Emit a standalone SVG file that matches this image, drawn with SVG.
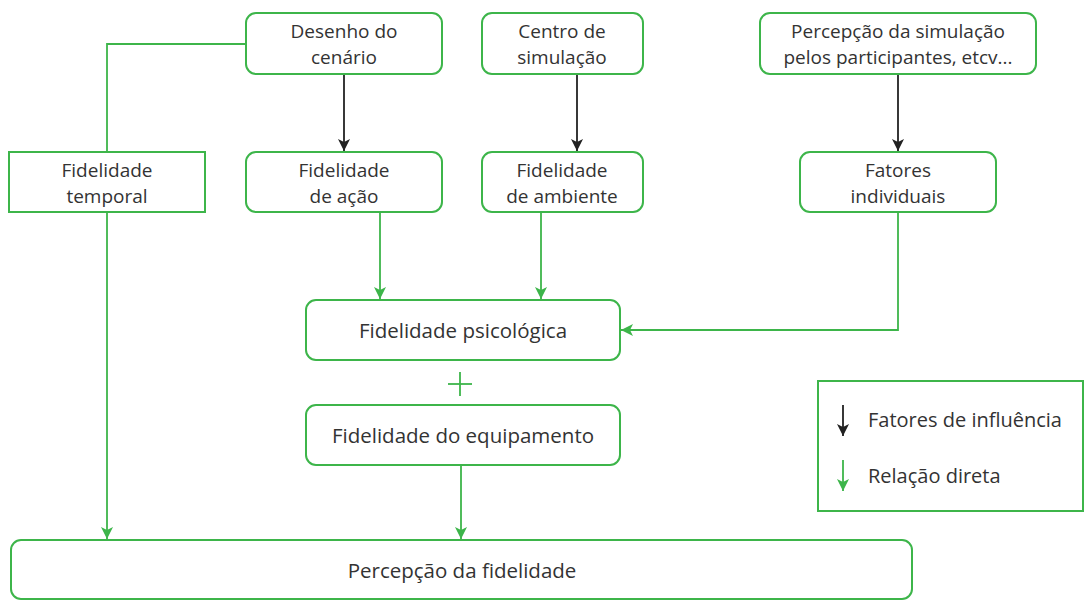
<svg xmlns="http://www.w3.org/2000/svg" width="1085" height="601" viewBox="0 0 1085 601">
<style>
.box{fill:#fff;stroke:#3db54a;stroke-width:2}
.t{font-family:"Open Sans","Liberation Sans",sans-serif;font-size:19px;fill:#333;text-anchor:middle}
.t1{font-family:"Open Sans","Liberation Sans",sans-serif;font-size:20.5px;fill:#333;text-anchor:middle}
.tl{font-family:"Open Sans","Liberation Sans",sans-serif;font-size:20px;fill:#333}
.g{stroke:#3db54a;stroke-width:1.8;fill:none}
.k{stroke:#222;stroke-width:1.8;fill:none}
</style>
<defs>
<marker id="ag" markerWidth="12" markerHeight="12" refX="12" refY="6" orient="auto" markerUnits="userSpaceOnUse"><path d="M0,0 L12,6 L0,12 L3,6 Z" fill="#3db54a"/></marker>
<marker id="ak" markerWidth="12" markerHeight="12" refX="12" refY="6" orient="auto" markerUnits="userSpaceOnUse"><path d="M0,0 L12,6 L0,12 L3,6 Z" fill="#222"/></marker>
</defs>
<rect width="1085" height="601" fill="#fff"/>
<g id="connectors">
<polyline class="g" points="246,44 107,44 107,152"/>
<line class="g" x1="107" y1="212" x2="107" y2="539" marker-end="url(#ag)"/>
<line class="k" x1="344" y1="74" x2="344" y2="151" marker-end="url(#ak)"/>
<line class="k" x1="577" y1="74" x2="577" y2="151" marker-end="url(#ak)"/>
<line class="k" x1="898" y1="74" x2="898" y2="151" marker-end="url(#ak)"/>
<line class="g" x1="380" y1="212" x2="380" y2="299" marker-end="url(#ag)"/>
<line class="g" x1="541" y1="212" x2="541" y2="299" marker-end="url(#ag)"/>
<polyline class="g" points="898,212 898,330 621,330" marker-end="url(#ag)"/>
<line class="g" x1="461" y1="465" x2="461" y2="539" marker-end="url(#ag)"/>
<line class="g" x1="448" y1="384" x2="472" y2="384"/>
<line class="g" x1="460" y1="372" x2="460" y2="396"/>
</g>
<g id="n-desenho"><rect class="box" x="246" y="13" width="196" height="61" rx="10"/><text class="t" x="344" y="38">Desenho do</text><text class="t" x="344" y="64">cenário</text></g>
<g id="n-centro"><rect class="box" x="482" y="13" width="161" height="61" rx="10"/><text class="t" x="562" y="38">Centro de</text><text class="t" x="562" y="64">simulação</text></g>
<g id="n-percepcao-sim"><rect class="box" x="760" y="13" width="276" height="61" rx="10"/><text class="t" x="898" y="38">Percepção da simulação</text><text class="t" x="898" y="64">pelos participantes, etcv...</text></g>
<g id="n-temporal"><rect class="box" x="9" y="152" width="196" height="60"/><text class="t" x="107" y="177">Fidelidade</text><text class="t" x="107" y="203">temporal</text></g>
<g id="n-acao"><rect class="box" x="246" y="152" width="196" height="60" rx="10"/><text class="t" x="344" y="177">Fidelidade</text><text class="t" x="344" y="203">de ação</text></g>
<g id="n-ambiente"><rect class="box" x="482" y="152" width="161" height="60" rx="10"/><text class="t" x="562" y="177">Fidelidade</text><text class="t" x="562" y="203">de ambiente</text></g>
<g id="n-fatores"><rect class="box" x="800" y="152" width="196" height="60" rx="10"/><text class="t" x="898" y="177">Fatores</text><text class="t" x="898" y="203">individuais</text></g>
<g id="n-psicologica"><rect class="box" x="306" y="300" width="314" height="60" rx="10"/><text class="t1" x="463" y="338">Fidelidade psicológica</text></g>
<g id="n-equipamento"><rect class="box" x="306" y="405" width="314" height="60" rx="10"/><text class="t1" x="463" y="443">Fidelidade do equipamento</text></g>
<g id="n-percepcao-fid"><rect class="box" x="11" y="540" width="901" height="59" rx="10"/><text class="t1" x="462" y="578">Percepção da fidelidade</text></g>
<g id="legend">
<rect class="box" x="818" y="381" width="265" height="130"/>
<line class="k" x1="843" y1="405" x2="843" y2="436" marker-end="url(#ak)"/>
<text class="tl" x="868" y="427">Fatores de influência</text>
<line class="g" x1="843" y1="460" x2="843" y2="491" marker-end="url(#ag)"/>
<text class="tl" x="868" y="483">Relação direta</text>
</g>
</svg>
